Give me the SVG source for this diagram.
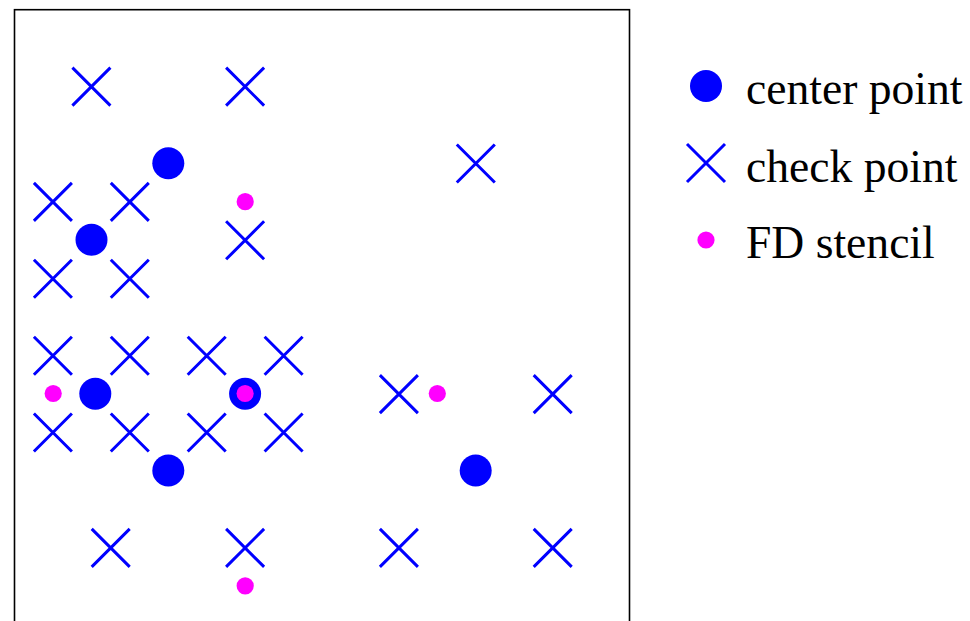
<svg xmlns="http://www.w3.org/2000/svg" xmlns:xlink="http://www.w3.org/1999/xlink" width="970" height="621" viewBox="0 0 970 621">
<style>
.frame{fill:#fff;stroke:#000;stroke-width:1.6}
.cross{fill:none;stroke:#0000ff;stroke-width:3}
.center{fill:#0000ff}
.fd{fill:#ff00ff}
.lbl{font-family:"Liberation Serif","Times New Roman",serif;font-size:45.6px;fill:#000}
</style>
<defs>
<path id="xm" class="cross" d="M-19,-19L19,19M-19,19L19,-19"/>
</defs>
<rect width="970" height="621" fill="#fff"/>
<rect class="frame" x="14.5" y="9.7" width="615" height="615"/>
<g id="checkpoints">
<use href="#xm" x="91.4" y="86.6"/>
<use href="#xm" x="245.1" y="86.6"/>
<use href="#xm" x="475.8" y="163.5"/>
<use href="#xm" x="52.9" y="201.9"/>
<use href="#xm" x="129.8" y="201.9"/>
<use href="#xm" x="245.1" y="240.3"/>
<use href="#xm" x="52.9" y="278.8"/>
<use href="#xm" x="129.8" y="278.8"/>
<use href="#xm" x="52.9" y="355.7"/>
<use href="#xm" x="129.8" y="355.7"/>
<use href="#xm" x="206.7" y="355.7"/>
<use href="#xm" x="283.6" y="355.7"/>
<use href="#xm" x="398.9" y="394.1"/>
<use href="#xm" x="552.7" y="394.1"/>
<use href="#xm" x="52.9" y="432.5"/>
<use href="#xm" x="129.8" y="432.5"/>
<use href="#xm" x="206.7" y="432.5"/>
<use href="#xm" x="283.6" y="432.5"/>
<use href="#xm" x="110.7" y="547.9"/>
<use href="#xm" x="245.1" y="547.9"/>
<use href="#xm" x="398.9" y="547.9"/>
<use href="#xm" x="552.7" y="547.9"/>
</g>
<g id="centerpoints">
<circle class="center" cx="168.3" cy="163.2" r="16"/>
<circle class="center" cx="91.5" cy="239.8" r="16"/>
<circle class="center" cx="95.3" cy="393.8" r="16"/>
<circle class="center" cx="245.1" cy="393.8" r="16"/>
<circle class="center" cx="168.3" cy="470.5" r="16"/>
<circle class="center" cx="475.7" cy="470.5" r="16"/>
</g>
<g id="fdstencil">
<circle class="fd" cx="245.2" cy="201.7" r="8.6"/>
<circle class="fd" cx="53.2" cy="393.5" r="8.6"/>
<circle class="fd" cx="245.1" cy="393.5" r="8.6"/>
<circle class="fd" cx="437.3" cy="393.5" r="8.6"/>
<circle class="fd" cx="245.2" cy="585.8" r="8.6"/>
</g>
<g id="legend">
<g id="legend-center">
<circle class="center" cx="706" cy="86" r="16"/>
<text class="lbl" x="746" y="104.3">center point</text>
</g>
<g id="legend-check">
<use href="#xm" x="706" y="163"/>
<text class="lbl" x="746" y="181.7">check point</text>
</g>
<g id="legend-fd">
<circle class="fd" cx="706" cy="240" r="8.6"/>
<text class="lbl" x="746" y="258.3">FD stencil</text>
</g>
</g>
</svg>
